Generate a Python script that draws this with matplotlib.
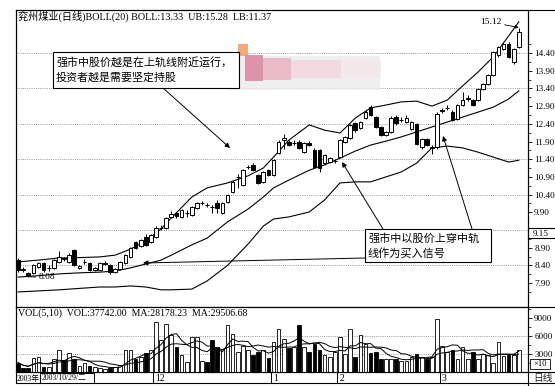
import matplotlib
matplotlib.use('Agg')
import matplotlib.pyplot as plt
import numpy as np
import pandas as pd
from matplotlib.patches import Rectangle
from matplotlib.ticker import FixedLocator

SERIF = ['Liberation Serif', 'Noto Sans CJK SC']
CJK = ['Noto Sans CJK SC', 'DejaVu Sans']
plt.rcParams['font.family'] = SERIF

# ---------------- data ----------------
opens = [8.55, 8.31, 8.18, 8.19, 8.36, 8.47, 8.32, 8.33, 8.50, 8.60,
         8.50, 8.83, 8.33, 8.49, 8.47, 8.28, 8.27, 8.45, 8.41, 8.22,
         8.30, 8.47, 8.64, 9.06, 8.95, 9.20, 9.06, 9.20, 9.45, 9.46,
         9.78, 9.88, 9.77, 9.87, 9.82, 10.02, 10.15, 10.12, 10.06, 10.16,
         9.88, 10.19, 10.47, 10.89, 10.67, 11.17, 11.24, 10.95, 10.76, 11.09,
         10.95, 11.58, 11.95, 11.89, 11.85, 11.89, 11.60, 11.86, 11.66, 11.66,
         11.29, 11.32, 11.34, 11.46, 11.89, 12.00, 12.42, 12.28, 12.56, 12.87,
         12.59, 12.31, 12.08, 12.17, 12.59, 12.50, 12.45, 12.25, 12.39, 11.74,
         11.97, 11.73, 11.74, 12.77, 12.84, 12.73, 12.54, 12.93, 13.11, 13.07,
         13.07, 13.38, 13.52, 13.78, 14.34, 14.51, 14.65, 14.15, 14.57]
highs = [8.62, 8.36, 8.22, 8.44, 8.50, 8.50, 8.42, 8.58, 8.80, 8.64,
         8.74, 8.86, 8.42, 8.58, 8.50, 8.36, 8.50, 8.52, 8.45, 8.34,
         8.53, 8.72, 8.92, 9.10, 9.15, 9.30, 9.30, 9.50, 9.55, 9.78,
         9.95, 9.92, 10.00, 9.96, 10.08, 10.19, 10.22, 10.16, 10.10, 10.25,
         10.19, 10.42, 10.80, 10.98, 11.12, 11.24, 11.28, 10.98, 11.07, 11.12,
         11.41, 11.94, 12.10, 11.94, 11.93, 11.94, 11.89, 11.91, 11.72, 11.70,
         11.55, 11.46, 11.40, 11.97, 12.06, 12.40, 12.45, 12.48, 12.78, 12.92,
         12.62, 12.34, 12.20, 12.62, 12.65, 12.60, 12.65, 12.48, 12.42, 12.00,
         12.00, 11.80, 12.72, 12.85, 12.92, 12.78, 12.96, 13.30, 13.20, 13.10,
         13.42, 13.55, 13.81, 14.46, 14.60, 14.70, 14.70, 14.55, 15.12]
lows = [8.22, 8.20, 8.08, 8.15, 8.33, 8.22, 8.25, 8.30, 8.47, 8.52,
        8.47, 8.38, 8.30, 8.44, 8.24, 8.24, 8.24, 8.42, 8.17, 8.19,
        8.27, 8.44, 8.60, 8.85, 8.92, 8.95, 9.03, 9.17, 9.40, 9.43,
        9.74, 9.75, 9.74, 9.78, 9.80, 9.99, 10.10, 10.06, 9.88, 9.88,
        9.85, 10.16, 10.44, 10.60, 10.64, 11.12, 11.06, 10.70, 10.73, 10.92,
        10.92, 11.55, 11.70, 11.77, 11.80, 11.69, 11.57, 11.76, 11.14, 11.04,
        11.24, 11.29, 11.30, 11.43, 11.86, 11.97, 12.18, 12.25, 12.53, 12.62,
        12.28, 12.05, 12.05, 12.14, 12.38, 12.45, 12.42, 12.22, 11.80, 11.70,
        11.77, 11.55, 11.70, 12.70, 12.78, 12.48, 12.51, 12.90, 13.05, 12.90,
        13.04, 13.35, 13.49, 13.75, 14.30, 14.48, 14.25, 14.10, 14.55]
closes = [8.27, 8.28, 8.14, 8.41, 8.47, 8.27, 8.34, 8.55, 8.64, 8.57,
          8.69, 8.41, 8.37, 8.51, 8.27, 8.33, 8.47, 8.48, 8.21, 8.30,
          8.50, 8.69, 8.89, 8.89, 9.12, 8.98, 9.26, 9.46, 9.47, 9.74,
          9.85, 9.80, 9.96, 9.89, 10.05, 10.16, 10.17, 10.10, 10.04, 10.02,
          10.16, 10.39, 10.76, 10.91, 11.09, 11.19, 11.09, 10.73, 11.04, 10.95,
          11.38, 11.89, 12.00, 11.80, 11.87, 11.72, 11.86, 11.80, 11.18, 11.15,
          11.52, 11.43, 11.36, 11.94, 12.03, 12.37, 12.22, 12.45, 12.73, 12.65,
          12.31, 12.08, 12.17, 12.56, 12.42, 12.52, 12.56, 12.45, 11.83, 11.97,
          11.80, 11.75, 12.68, 12.79, 12.86, 12.51, 12.93, 13.07, 13.13, 12.93,
          13.38, 13.52, 13.78, 14.43, 14.57, 14.65, 14.29, 14.51, 14.99]
# volume in units of x10
volumes = [1550, 700, 600, 2300, 2550, 850, 750, 2100, 3600, 2000,
           3200, 2100, 1000, 1500, 950, 850, 700, 550, 700, 850,
           1100, 3600, 3700, 2200, 2500, 3200, 3600, 8300, 5300, 8000,
           6100, 4200, 2800, 1700, 5800, 5900, 1800, 1650, 5300, 4200,
           3900, 7800, 6300, 3300, 4400, 3600, 2900, 3300, 3600, 2300,
           5000, 7100, 5500, 4000, 4200, 7800, 4100, 3400, 4700, 3600,
           2900, 2500, 3300, 5800, 3000, 7200, 2500, 6100, 4700, 3200,
           3400, 2200, 2100, 2200, 2200, 1900, 1800, 2500, 3000, 2500,
           2200, 2500, 8800, 4300, 3300, 3700, 2200, 4200, 2200, 3300,
           2200, 3000, 2800, 1500, 5000, 2700, 2800, 2900, 3700]

# Bollinger band (20) at sample candles
band_idx = [0, 4, 8, 12, 16, 19, 22, 25, 28, 30, 34, 37, 41, 45, 48, 50,
            53, 57, 60, 63, 66, 69, 72, 75, 78, 81, 84, 87, 90, 93, 96, 98]
boll_up = [8.50, 8.55, 8.61, 8.62, 8.64, 8.69, 8.86, 9.09, 9.43, 9.74, 10.33, 10.59,
           10.73, 10.93, 11.15, 11.46, 11.94, 12.37, 12.22, 12.14, 12.56, 12.85,
           12.93, 13.02, 13.04, 12.90, 13.07, 13.47, 13.86, 14.29, 14.88, 15.28]
boll_mid = [8.07, 8.11, 8.16, 8.19, 8.21, 8.24, 8.33, 8.44, 8.55, 8.69, 8.98, 9.17,
            9.63, 9.99, 10.33, 10.59, 10.81, 11.09, 11.24, 11.43, 11.63, 11.80,
            11.91, 12.03, 12.17, 12.31, 12.45, 12.59, 12.73, 12.87, 13.10, 13.33]
boll_low = [7.65, 7.68, 7.71, 7.75, 7.79, 7.79, 7.82, 7.79, 7.71, 7.71, 7.73, 7.96,
            8.40, 9.00, 9.51, 9.71, 9.77, 9.91, 10.25, 10.73, 10.76, 10.76,
            10.90, 11.04, 11.29, 11.72, 11.77, 11.72, 11.60, 11.46, 11.32, 11.37]

month_pos = [27, 50, 63, 83]
month_labels = ['12', '1', '2', '3']
price_ticks = [7.90, 8.40, 8.90, 9.90, 10.40, 10.90, 11.40, 11.90,
               12.40, 12.90, 13.40, 13.90, 14.40]
price_grid = [8.40, 9.40, 10.40, 11.40, 12.40, 13.40, 14.40]
vol_ticks = [3000, 6000, 9000]
vol_grid = [3000, 6000]

title = '兖州煤业(日线)BOLL(20) BOLL:13.33  UB:15.28  LB:11.37'
vol_title = 'VOL(5,10)  VOL:37742.00  MA:28178.23  MA:29506.68'
note1 = ['强市中股价越是在上轨线附近运行，', '投资者越是需要坚定持股']
note2 = ['强市中以股价上穿中轨', '线作为买入信号']

# ---------------- figure ----------------
W, H = 555, 386
fig = plt.figure(figsize=(5.55, 3.86), dpi=100)
fig.patch.set_facecolor('white')

def rect(x0, y0, x1, y1):
    return [x0 / W, 1 - y1 / H, (x1 - x0) / W, (y1 - y0) / H]

L, R = 16, 528
ax = fig.add_axes(rect(L, 10, R, 307))
axv = fig.add_axes(rect(L, 307, R, 372))

n = len(closes)
xs = np.arange(n)
ax.set_xlim(-0.4, 99.8)
axv.set_xlim(-0.4, 99.8)
ax.set_ylim(7.225, 15.615)
axv.set_ylim(0, 10833)

dot = (0, (1, 1.6))
for g in price_grid:
    ax.axhline(g, color='#777777', lw=0.6, ls=dot, zorder=1)
for g in vol_grid:
    axv.axhline(g, color='#777777', lw=0.6, ls=dot, zorder=1)

# candles
for i in range(n):
    o, h, l, c = opens[i], highs[i], lows[i], closes[i]
    up = c >= o
    b0, b1 = min(o, c), max(o, c)
    ax.vlines(i, l, h, color='black', lw=0.7, zorder=3)
    ax.add_patch(Rectangle((i - 0.36, b0), 0.72, max(b1 - b0, 0.012),
                           facecolor='white' if up else 'black',
                           edgecolor='black', lw=0.7, zorder=4))

# bollinger
for band in (boll_up, boll_mid, boll_low):
    ax.plot(band_idx, band, color='black', lw=0.8, zorder=2)

# volume
vcol = ['white' if closes[i] >= opens[i] else 'black' for i in range(n)]
axv.bar(xs, volumes, width=0.72, color=vcol, edgecolor='black', lw=0.6, zorder=3)
vs = pd.Series(volumes, dtype=float)
axv.plot(xs, vs.rolling(5, min_periods=1).mean(), color='black', lw=0.7, zorder=4)
axv.plot(xs, vs.rolling(10, min_periods=1).mean(), color='black', lw=0.7, zorder=4)

# axes styling
for a in (ax, axv):
    for s in a.spines.values():
        s.set_linewidth(0.8)
        s.set_color('black')
    a.set_xticks([])
    a.yaxis.tick_right()
    a.tick_params(axis='y', which='major', direction='out', length=3, width=0.6,
                  labelsize=6.6, pad=1.5, colors='black')
    a.tick_params(axis='y', which='minor', direction='out', length=1.8, width=0.5)

ax.set_yticks(price_ticks)
ax.set_yticklabels(['%.2f' % t for t in price_ticks])
ax.yaxis.set_minor_locator(FixedLocator([t + 0.25 for t in price_ticks] + [7.65, 9.40]))
axv.set_yticks(vol_ticks)
axv.set_yticklabels(['%d' % t for t in vol_ticks])
axv.yaxis.set_minor_locator(FixedLocator([1500, 4500, 7500, 10500]))

# peak / trough labels (data coords)
imax = int(np.argmax(highs))
imin = int(np.argmin(lows))
ax.annotate('%.2f' % highs[imax], xy=(imax, highs[imax]), xytext=(imax - 7.5, highs[imax] + 0.15),
            fontsize=6.8, va='center', ha='left',
            arrowprops=dict(arrowstyle='-|>', lw=0.6, color='black', mutation_scale=5,
                            shrinkA=0, shrinkB=0))
ax.annotate('%.2f' % lows[imin], xy=(imin, lows[imin]), xytext=(imin + 2, lows[imin] - 0.02),
            fontsize=6.8, va='center', ha='left',
            arrowprops=dict(arrowstyle='-', lw=0.6, color='black', shrinkA=0, shrinkB=0))

# ---------------- overlay in pixel space ----------------
ov = fig.add_axes([0, 0, 1, 1])
ov.set_xlim(0, W)
ov.set_ylim(H, 0)
ov.axis('off')

k = dict(color='black', lw=0.8)
ov.plot([L, W], [10, 10], **k)
ov.plot([L, W], [307, 307], **k)
ov.plot([L, W], [372, 372], **k)
ov.plot([L, W], [383, 383], **k)
ov.plot([L, L], [10, 383], **k)
ov.plot([R, R], [10, 386], **k)
# price box on axis
ov.add_patch(Rectangle((R, 228), W - R, 10, facecolor='white', edgecolor='black', lw=0.8))
ov.text(541, 233.5, '9.15', fontsize=6.6, ha='center', va='center')
# x10 box
ov.add_patch(Rectangle((530, 359), 20, 10, facecolor='white', edgecolor='black', lw=0.6))
ov.text(540, 364.5, '×10', fontsize=6.2, ha='center', va='center')
ov.text(543, 378.5, '日线', fontsize=7, ha='center', va='center', family=CJK, color='#222222')

# titles
ov.text(18, 16, title, fontsize=7.3, ha='left', va='center')
ov.text(18, 313, vol_title, fontsize=7.1, ha='left', va='center')

# date row
ov.text(17, 378.5, '2003年', fontsize=5.6, ha='left', va='center')
ov.add_patch(Rectangle((40, 373), 54, 10, facecolor='white', edgecolor='black', lw=0.7))
ov.text(41.5, 378.5, '2003/10/29/二', fontsize=5.6, ha='left', va='center')

# month separators via data transform
for p, lab in zip(month_pos, month_labels):
    xpix = fig.transFigure.inverted().transform(ax.transData.transform((p - 0.5, 0)))[0] * W
    ov.plot([xpix, xpix], [372, 383], color='black', lw=0.7)
    ov.text(xpix + 2, 378.5, lab, fontsize=7, ha='left', va='center')

# pink blurred smudge
for (x0, y0, w, h, c, a) in [(230, 56, 150, 34, '#ececec', 0.8),
                             (238, 44, 10, 12, '#f2a36a', 0.9),
                             (245, 55, 18, 26, '#dc8aa4', 0.9),
                             (263, 58, 28, 22, '#e8b2c2', 0.85),
                             (291, 60, 50, 18, '#f3d6dd', 0.8),
                             (341, 60, 40, 18, '#f7e6ea', 0.7)]:
    ov.add_patch(Rectangle((x0, y0), w, h, facecolor=c, edgecolor='none', alpha=a))

# note boxes
ov.add_patch(Rectangle((53, 52), 186, 36, facecolor='white', edgecolor='black', lw=0.8, zorder=5))
ov.text(56, 62, note1[0], fontsize=7.9, family=CJK, ha='left', va='center', zorder=6)
ov.text(56, 77, note1[1], fontsize=7.9, family=CJK, ha='left', va='center', zorder=6)

ov.add_patch(Rectangle((365, 229), 126, 33, facecolor='white', edgecolor='black', lw=0.8, zorder=5))
ov.text(368, 238, note2[0], fontsize=8, family=CJK, ha='left', va='center', zorder=6)
ov.text(368, 253, note2[1], fontsize=8, family=CJK, ha='left', va='center', zorder=6)

arr = dict(arrowstyle='-|>', lw=0.7, color='black', mutation_scale=7, shrinkA=0, shrinkB=0)
ov.annotate('', xy=(230, 148), xytext=(163, 88), arrowprops=arr)
ov.annotate('', xy=(342, 162), xytext=(383, 229), arrowprops=arr)
ov.annotate('', xy=(443, 136), xytext=(472, 229), arrowprops=arr)
ov.annotate('', xy=(143, 263), xytext=(365, 258), arrowprops=arr)

fig.savefig('out.png', dpi=100)
